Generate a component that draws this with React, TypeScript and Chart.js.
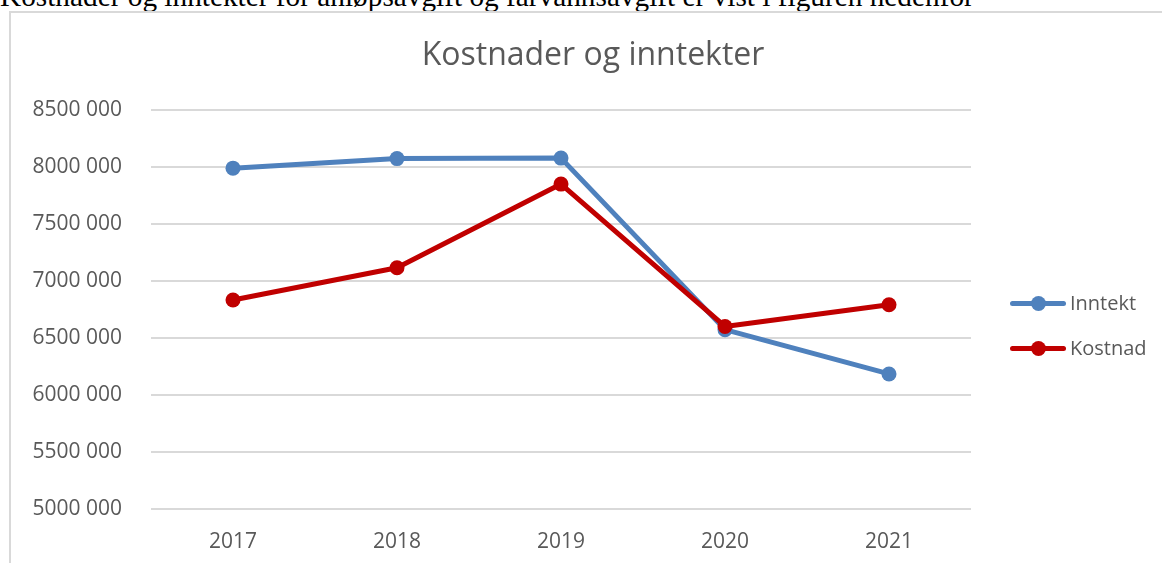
import React, { useEffect, useRef } from "react";
import { Chart, registerables } from "chart.js";

Chart.register(...registerables);

const introText =
  "Kostnader og inntekter for anløpsavgift og farvannsavgift er vist i figuren nedenfor";
const chartTitle = "Kostnader og inntekter";
const years = ["2017", "2018", "2019", "2020", "2021"];
const seriesNames = ["Inntekt", "Kostnad"];
const seriesColors = ["#4F81BD", "#C00000"];
const inntekt = [7993000, 8077000, 8081000, 6575000, 6186000];
const kostnad = [6835000, 7118000, 7853000, 6603000, 6794000];
const yMin = 5000000;
const yMax = 8500000;
const yStep = 500000;

const FONT = "'Open Sans', sans-serif";
const TEXT_COLOR = "#595959";

function formatTick(v: number): string {
  const thousands = Math.floor(v / 1000);
  const rest = String(Math.round(v % 1000)).padStart(3, "0");
  return `${thousands} ${rest}`;
}

export default function App() {
  const canvasRef = useRef<HTMLCanvasElement | null>(null);

  useEffect(() => {
    const canvas = canvasRef.current;
    if (!canvas) return;
    const chart = new Chart(canvas, {
      type: "line",
      data: {
        labels: years,
        datasets: [
          {
            label: seriesNames[0],
            data: inntekt,
            borderColor: seriesColors[0],
            backgroundColor: seriesColors[0],
            pointBackgroundColor: seriesColors[0],
            pointBorderColor: seriesColors[0],
            borderWidth: 5,
            pointRadius: 7.5,
            pointBorderWidth: 0,
            borderCapStyle: "round",
            borderJoinStyle: "round",
            tension: 0,
            order: 1,
          },
          {
            label: seriesNames[1],
            data: kostnad,
            borderColor: seriesColors[1],
            backgroundColor: seriesColors[1],
            pointBackgroundColor: seriesColors[1],
            pointBorderColor: seriesColors[1],
            borderWidth: 5,
            pointRadius: 7.5,
            pointBorderWidth: 0,
            borderCapStyle: "round",
            borderJoinStyle: "round",
            tension: 0,
            order: 0,
          },
        ],
      },
      options: {
        animation: false,
        responsive: false,
        maintainAspectRatio: false,
        layout: { padding: { left: 24, top: 37, right: 0, bottom: 0 } },
        plugins: {
          legend: { display: false },
          tooltip: { enabled: false },
          title: {
            display: true,
            text: chartTitle,
            color: TEXT_COLOR,
            font: { family: FONT, size: 32, weight: "normal" },
            padding: { top: 0, bottom: 35 },
          },
        },
        scales: {
          x: {
            type: "category",
            offset: true,
            grid: { display: false, drawTicks: false },
            border: { display: false },
            ticks: {
              color: TEXT_COLOR,
              font: { family: FONT, size: 21 },
              padding: 20,
              maxRotation: 0,
            },
            afterFit: (s: any) => {
              s.height = 54;
            },
          },
          y: {
            type: "linear",
            min: yMin,
            max: yMax,
            ticks: {
              stepSize: yStep,
              padding: 29,
              color: TEXT_COLOR,
              font: { family: FONT, size: 21 },
              callback: (v: any) => formatTick(Number(v)),
            },
            grid: { color: "#d9d9d9", lineWidth: 2, drawTicks: false },
            border: { display: false },
            afterFit: (s: any) => {
              s.width = 127;
            },
          },
          yRight: {
            type: "linear",
            position: "right",
            display: true,
            grid: { display: false, drawTicks: false },
            border: { display: false },
            ticks: { display: false },
            afterFit: (s: any) => {
              s.width = 191;
            },
          },
        },
      },
    } as any);
    return () => chart.destroy();
  }, []);

  const legendItem = (i: number, top: number) => (
    <div
      key={i}
      style={{
        position: "absolute",
        left: 1010,
        top: top - 15,
        height: 30,
        display: "flex",
        alignItems: "center",
      }}
    >
      <div style={{ position: "relative", width: 56, height: 30 }}>
        <div
          style={{
            position: "absolute",
            left: 0,
            top: 12.5,
            width: 56,
            height: 5,
            borderRadius: 2.5,
            background: seriesColors[i],
          }}
        />
        <div
          style={{
            position: "absolute",
            left: 28 - 7.5,
            top: 15 - 7.5,
            width: 15,
            height: 15,
            borderRadius: "50%",
            background: seriesColors[i],
          }}
        />
      </div>
      <span
        style={{
          marginLeft: 4,
          fontFamily: FONT,
          fontSize: 20,
          color: TEXT_COLOR,
          lineHeight: "30px",
          whiteSpace: "nowrap",
        }}
      >
        {seriesNames[i]}
      </span>
    </div>
  );

  return (
    <div
      style={{
        position: "fixed",
        left: 0,
        top: 0,
        width: 1162,
        height: 563,
        overflow: "hidden",
        background: "#ffffff",
      }}
    >
      <div
        style={{
          position: "absolute",
          left: 0,
          top: -18,
          fontFamily: "'Liberation Serif', 'Times New Roman', serif",
          fontSize: 29.3,
          lineHeight: "29px",
          color: "#000",
          whiteSpace: "nowrap",
        }}
      >
        {introText}
      </div>
      <div
        style={{
          position: "absolute",
          left: 9,
          top: 11,
          width: 1200,
          height: 700,
          border: "2px solid #d9d9d9",
          boxSizing: "border-box",
        }}
      />
      <canvas
        ref={canvasRef}
        width={1162}
        height={563}
        style={{ position: "absolute", left: 0, top: 0, display: "block" }}
      />
      {legendItem(0, 303)}
      {legendItem(1, 348)}
    </div>
  );
}
